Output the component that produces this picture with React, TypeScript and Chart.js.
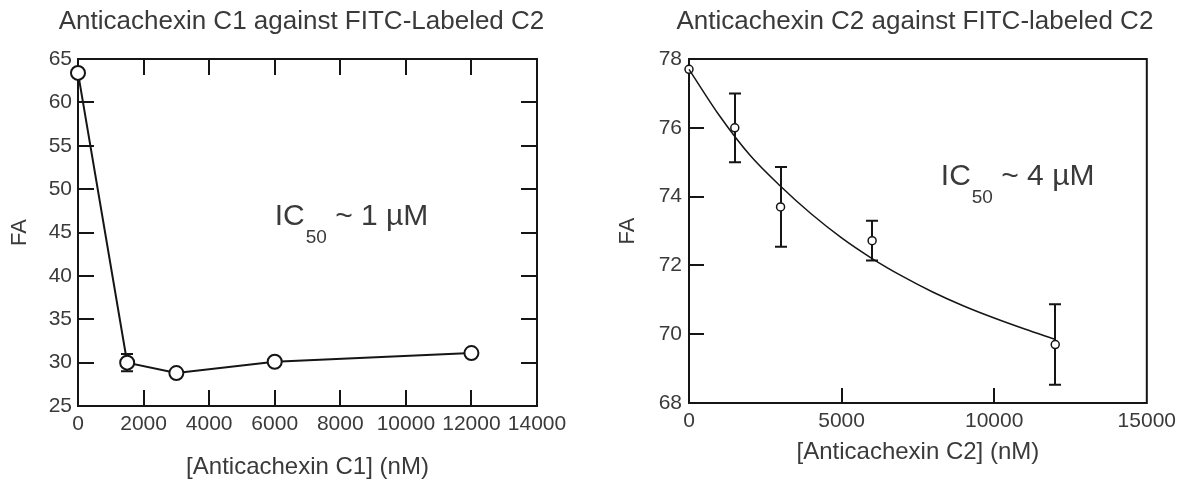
import React, { useEffect, useRef } from 'react';
import { Chart, registerables } from 'chart.js';

Chart.register(...registerables);

const FONT = '"Liberation Sans", Arial, Helvetica, sans-serif';
const TEXT = '#3a3a3a';
const INK = '#151515';

// ---- Left panel: Anticachexin C1 ----
const c1Title = 'Anticachexin C1 against FITC-Labeled C2';
const c1XLabel = '[Anticachexin C1] (nM)';
const c1YLabel = 'FA';
const c1Conc = [0, 1500, 3000, 6000, 12000];
const c1FA = [63.4, 30.0, 28.8, 30.1, 31.1];
const c1Err = [0, 1.0, 0, 0, 0];
const c1Annot = { main: 'IC', sub: '50', rest: ' ~ 1 \u00B5M', x: 6000, y: 45.9 };

// ---- Right panel: Anticachexin C2 ----
const c2Title = 'Anticachexin C2 against FITC-labeled C2';
const c2XLabel = '[Anticachexin C2] (nM)';
const c2YLabel = 'FA';
const c2Conc = [0, 1500, 3000, 6000, 12000];
const c2FA = [77.7, 76.0, 73.7, 72.72, 69.7];
const c2Err = [0, 1.0, 1.16, 0.58, 1.17];
const c2FitConc = [0, 1000, 2000, 3000, 4000, 5000, 6000, 7000, 8000, 9000, 10000, 11000, 12000];
const c2FitFA = [77.7, 76.35, 75.2, 74.3, 73.5, 72.8, 72.2, 71.68, 71.22, 70.82, 70.47, 70.15, 69.85];
const c2Annot = { main: 'IC', sub: '50', rest: ' ~ 4 \u00B5M', x: 8250, y: 74.34 };

type Decor = {
  title: string;
  titleDx: number;
  mirrorTicks: boolean;
  tickLen: number;
  conc: number[];
  fa: number[];
  err: number[];
  annot: { main: string; sub: string; rest: string; x: number; y: number };
};

function makeDecor(id: string, cfg: Decor) {
  return {
    id,
    beforeDatasetsDraw(chart: any) {
      const { ctx, chartArea: a, scales } = chart;
      const x = scales.x;
      const y = scales.y;
      ctx.save();
      ctx.strokeStyle = INK;
      ctx.lineWidth = 2;
      ctx.strokeRect(a.left, a.top, a.right - a.left, a.bottom - a.top);
      ctx.beginPath();
      const L = cfg.tickLen;
      for (const t of x.ticks) {
        if (t.value <= x.min || t.value >= x.max) continue;
        const px = Math.round(x.getPixelForValue(t.value));
        ctx.moveTo(px, a.bottom);
        ctx.lineTo(px, a.bottom - L);
        if (cfg.mirrorTicks) {
          ctx.moveTo(px, a.top);
          ctx.lineTo(px, a.top + L);
        }
      }
      for (const t of y.ticks) {
        if (t.value <= y.min || t.value >= y.max) continue;
        const py = Math.round(y.getPixelForValue(t.value));
        ctx.moveTo(a.left, py);
        ctx.lineTo(a.left + L, py);
        if (cfg.mirrorTicks) {
          ctx.moveTo(a.right, py);
          ctx.lineTo(a.right - L, py);
        }
      }
      ctx.stroke();
      // error bars
      ctx.lineWidth = 2;
      ctx.beginPath();
      cfg.conc.forEach((c, i) => {
        const e = cfg.err[i];
        if (!e) return;
        const px = Math.round(x.getPixelForValue(c));
        const top = y.getPixelForValue(cfg.fa[i] + e);
        const bot = y.getPixelForValue(cfg.fa[i] - e);
        ctx.moveTo(px, top);
        ctx.lineTo(px, bot);
        ctx.moveTo(px - 6, top);
        ctx.lineTo(px + 6, top);
        ctx.moveTo(px - 6, bot);
        ctx.lineTo(px + 6, bot);
      });
      ctx.stroke();
      ctx.restore();
    },
    afterDraw(chart: any) {
      const { ctx, chartArea: a, scales } = chart;
      ctx.save();
      ctx.fillStyle = TEXT;
      ctx.textBaseline = 'alphabetic';
      ctx.textAlign = 'center';
      ctx.font = `26px ${FONT}`;
      ctx.fillText(cfg.title, (a.left + a.right) / 2 + cfg.titleDx, 29);
      // annotation
      const an = cfg.annot;
      let px = scales.x.getPixelForValue(an.x);
      const py = scales.y.getPixelForValue(an.y);
      ctx.textAlign = 'left';
      ctx.font = `30px ${FONT}`;
      ctx.fillText(an.main, px, py);
      px += ctx.measureText(an.main).width + 1;
      ctx.font = `19px ${FONT}`;
      ctx.fillText(an.sub, px, py + 18);
      px += ctx.measureText(an.sub).width;
      ctx.font = `30px ${FONT}`;
      ctx.fillText(an.rest, px, py);
      ctx.restore();
    },
  };
}

function axisX(min: number, max: number, step: number, label: string, height: number, titleBottom: number) {
  return {
    type: 'linear',
    min,
    max,
    ticks: {
      stepSize: step,
      padding: 6,
      color: TEXT,
      autoSkip: false,
      maxRotation: 0,
      font: { family: FONT, size: 21 },
      callback: (v: any) => String(v),
    },
    grid: { display: false, drawTicks: false },
    border: { display: false },
    title: {
      display: true,
      text: label,
      color: TEXT,
      font: { family: FONT, size: 24 },
      padding: { top: 0, bottom: titleBottom },
    },
    afterFit: (s: any) => {
      s.height = height;
    },
  };
}

function axisY(min: number, max: number, step: number, label: string, width: number, titleTop: number, pad: number) {
  return {
    type: 'linear',
    min,
    max,
    ticks: {
      stepSize: step,
      padding: pad,
      color: TEXT,
      font: { family: FONT, size: 21 },
      callback: (v: any) => String(v),
    },
    grid: { display: false, drawTicks: false },
    border: { display: false },
    title: {
      display: true,
      text: label,
      color: TEXT,
      font: { family: FONT, size: 22 },
      padding: { top: titleTop, bottom: 0 },
    },
    afterFit: (s: any) => {
      s.width = width;
    },
  };
}

function leftConfig(): any {
  return {
    type: 'scatter',
    data: {
      datasets: [
        {
          data: c1Conc.map((c, i) => ({ x: c, y: c1FA[i] })),
          showLine: true,
          tension: 0,
          borderColor: INK,
          borderWidth: 2,
          pointRadius: 7,
          pointBorderWidth: 2,
          pointBackgroundColor: '#ffffff',
          pointBorderColor: INK,
          clip: false,
        },
      ],
    },
    options: {
      animation: false,
      responsive: false,
      devicePixelRatio: 1,
      events: [],
      layout: { padding: { top: 59, right: 53, bottom: 0, left: 0 } },
      plugins: { legend: { display: false }, tooltip: { enabled: false }, title: { display: false } },
      scales: {
        x: axisX(0, 14000, 2000, c1XLabel, 76, 0),
        y: axisY(25, 65, 5, c1YLabel, 78, 7, 6),
      },
    },
    plugins: [
      makeDecor('decorLeft', {
        title: c1Title,
        titleDx: -6,
        mirrorTicks: true,
        tickLen: 16,
        conc: c1Conc,
        fa: c1FA,
        err: c1Err,
        annot: c1Annot,
      }),
    ],
  };
}

function rightConfig(): any {
  return {
    type: 'scatter',
    data: {
      datasets: [
        {
          data: c2FitConc.map((c, i) => ({ x: c, y: c2FitFA[i] })),
          showLine: true,
          cubicInterpolationMode: 'monotone',
          borderColor: INK,
          borderWidth: 1.5,
          pointRadius: 0,
          clip: false,
        },
        {
          data: c2Conc.map((c, i) => ({ x: c, y: c2FA[i] })),
          showLine: false,
          pointRadius: 4,
          pointBorderWidth: 1.5,
          pointBackgroundColor: '#ffffff',
          pointBorderColor: INK,
          clip: false,
        },
      ],
    },
    options: {
      animation: false,
      responsive: false,
      devicePixelRatio: 1,
      events: [],
      layout: { padding: { top: 59, right: 33, bottom: 0, left: 0 } },
      plugins: { legend: { display: false }, tooltip: { enabled: false }, title: { display: false } },
      scales: {
        x: axisX(0, 15000, 5000, c2XLabel, 79, 15),
        y: axisY(68, 78, 2, c2YLabel, 99, 25, 7),
      },
    },
    plugins: [
      makeDecor('decorRight', {
        title: c2Title,
        titleDx: -3,
        mirrorTicks: false,
        tickLen: 15,
        conc: c2Conc,
        fa: c2FA,
        err: c2Err,
        annot: c2Annot,
      }),
    ],
  };
}

function Panel({ build, width }: { build: () => any; width: number }) {
  const ref = useRef<HTMLCanvasElement | null>(null);
  useEffect(() => {
    if (!ref.current) return;
    const chart = new Chart(ref.current, build());
    return () => chart.destroy();
  }, []);
  return <canvas ref={ref} width={width} height={482} style={{ display: 'block', width, height: 482 }} />;
}

export default function App() {
  return (
    <div style={{ position: 'absolute', left: 0, top: 0, width: 1182, height: 482, background: '#ffffff', overflow: 'hidden' }}>
      <div style={{ position: 'absolute', left: 0, top: 0 }}>
        <Panel build={leftConfig} width={590} />
      </div>
      <div style={{ position: 'absolute', left: 590, top: 0 }}>
        <Panel build={rightConfig} width={592} />
      </div>
    </div>
  );
}
